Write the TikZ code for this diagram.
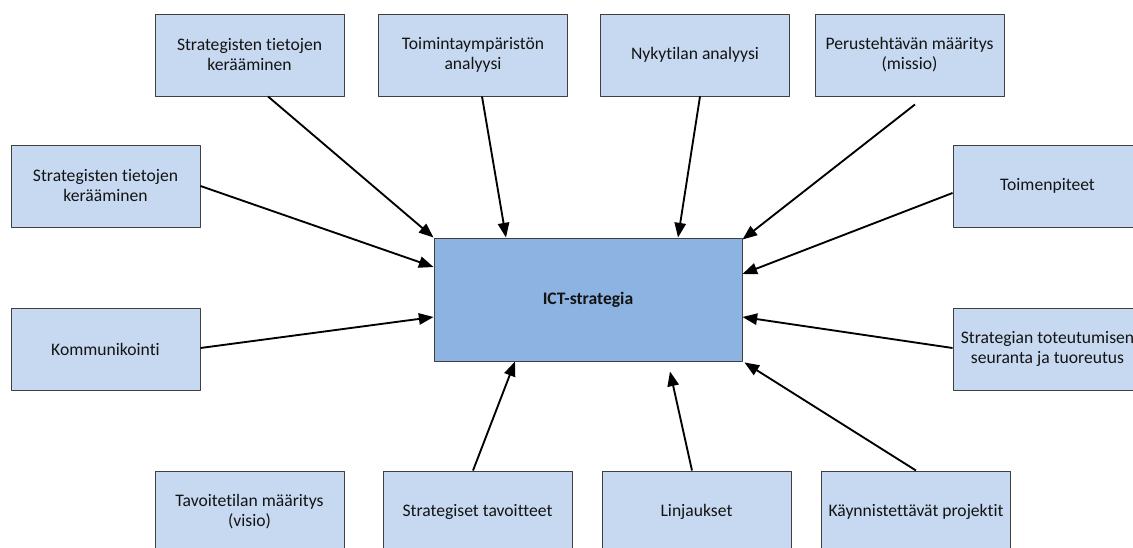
\documentclass[tikz,border=0pt]{standalone}
\usepackage{fontspec}
\setmainfont{Carlito}[Ligatures=NoCommon]
\usetikzlibrary{arrows.meta,calc}

\definecolor{boxfill}{HTML}{C6D9F1}
\definecolor{hubfill}{HTML}{8DB3E2}
\definecolor{boxline}{HTML}{3F3F3F}
\definecolor{txt}{HTML}{141414}

\tikzset{
  box/.style={draw=boxline, fill=boxfill, line width=0.7pt, minimum width=141.75pt,
    minimum height=61.5pt, align=center, text=txt, inner sep=2pt,
    font=\fontsize{13.2pt}{15pt}\selectfont},
  hub/.style={draw=boxline, fill=hubfill, line width=0.7pt, minimum width=231pt,
    minimum height=92.25pt, text=txt, font=\fontsize{13.2pt}{15pt}\selectfont\bfseries},
  arr/.style={-{Triangle[length=11pt,width=8.5pt]}, line width=1.4pt, black},
}

\begin{document}
\begin{tikzpicture}[x=0.75pt, y=-0.75pt, line join=round]
    \useasboundingbox (0,0) rectangle (1133,548);
    \clip (0,0) rectangle (1133,548);

    % keskus
    \node[hub] (ict) at (588,299.5) {ICT-strategia};

    % ylärivi
    \node[box] (top1) at (249.5,55) {Strategisten tietojen\\kerääminen};
    \node[box] (top2) at (473,55) {Toimintaympäristön\\analyysi};
    \node[box] (top3) at (695,55) {Nykytilan analyysi};
    \node[box] (top4) at (909.5,55) {Perustehtävän määritys\\(missio)};

    % sivut
    \node[box] (left1) at (105.5,186) {Strategisten tietojen\\kerääminen};
    \node[box] (left2) at (105.5,349) {Kommunikointi};
    \node[box] (right1) at (1047.5,186) {Toimenpiteet};
    \node[box] (right2) at (1047.5,349) {Strategian toteutumisen\\seuranta ja tuoreutus};

    % alarivi
    \node[box] (bot1) at (249.5,512) {Tavoitetilan määritys\\(visio)};
    \node[box] (bot2) at (477.5,512) {Strategiset tavoitteet};
    \node[box] (bot3) at (696.5,512) {Linjaukset};
    \node[box] (bot4) at (916,512) {Käynnistettävät projektit};

    % nuolet
    \draw[arr] ($(top1.south)+(18.5,0)$) -- (ict.north west);
    \draw[arr] ($(top2.south)+(9,0)$) -- ($(ict.north)+(-82,0)$);
    \draw[arr] ($(top3.south)+(5,0)$) -- ($(ict.north)+(90,0)$);
    \draw[arr] ($(top4.south)+(5.5,8)$) -- ($(ict.north east)+(0,2)$);
    \draw[arr] (left1.east) -- ($(ict.west)+(0,-32.5)$);
    \draw[arr] ($(left2.east)+(0,-1)$) -- ($(ict.west)+(0,17.5)$);
    \draw[arr] ($(right1.west)+(0,7)$) -- ($(ict.east)+(0,-25.5)$);
    \draw[arr] ($(right2.west)+(0,-1)$) -- ($(ict.east)+(0,17.5)$);
    \draw[arr] ($(bot2.north)+(-4.5,0)$) -- ($(ict.south)+(-73,0)$);
    \draw[arr] ($(bot3.north)+(-4.5,0)$) -- ($(ict.south)+(82,10)$);
    \draw[arr] (bot4.north) -- ($(ict.south east)+(2,1)$);
\end{tikzpicture}
\end{document}
